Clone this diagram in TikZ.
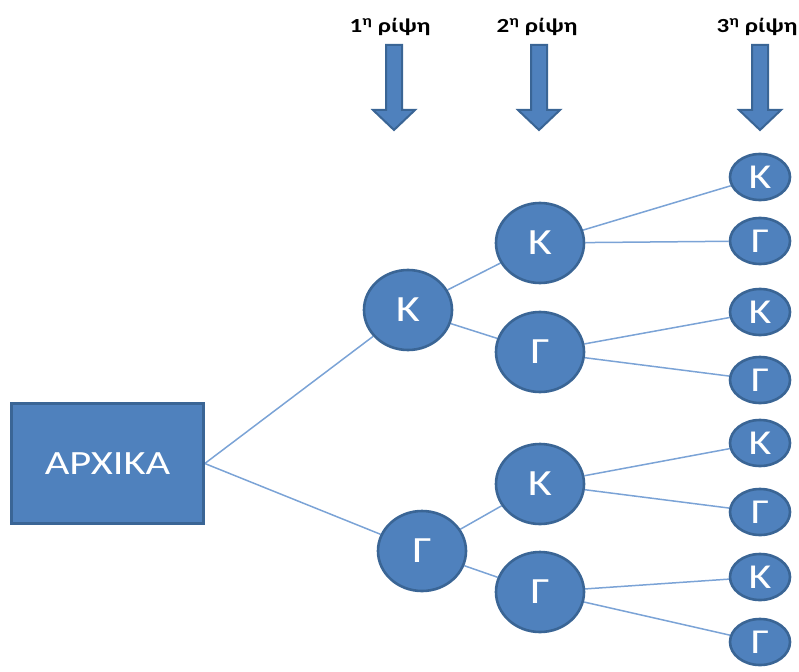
\documentclass[tikz,border=0pt]{standalone}
\usepackage{fontspec}
\setmainfont{Carlito}[FakeStretch=1.25]
\usetikzlibrary{shapes.geometric,backgrounds}
\definecolor{nodefill}{HTML}{4F81BD}
\definecolor{nodeedge}{HTML}{3A6595}
\definecolor{linkc}{HTML}{7BA3D6}
\tikzset{
  big/.style={ellipse, fill=nodefill, draw=nodeedge, line width=2.6pt, minimum width=88pt, minimum height=80pt, inner sep=0pt, text=white, font=\fontsize{37}{37}\selectfont},
  small/.style={ellipse, fill=nodefill, draw=nodeedge, line width=2.6pt, minimum width=60pt, minimum height=46pt, inner sep=0pt, text=white, font=\fontsize{35}{35}\selectfont},
  startbox/.style={rectangle, fill=nodefill, draw=nodeedge, line width=2.6pt, minimum width=192pt, minimum height=120pt, inner sep=0pt, text=white, font=\fontsize{34}{34}\selectfont},
  link/.style={draw=linkc, line width=1.5pt},
  arrowshape/.style={fill=nodefill, draw=nodeedge, line width=2pt, line join=miter},
  toplabel/.style={font=\fontsize{20}{20}\selectfont\bfseries, inner sep=0pt}
}
\newcommand{\blockarrow}[1]{\draw[arrowshape] ([xshift=-8pt]#1) -- ++(0,65) -- ++(-13,0) -- ++(21,20) -- ++(21,-20) -- ++(-13,0) -- ++(0,-65) -- cycle;}
\begin{document}
\begin{tikzpicture}[x=1pt,y=-1pt]
\useasboundingbox (0,0) rectangle (799,671);
% arrows and labels
\coordinate (a1) at (394,45);
\coordinate (a2) at (539,45);
\coordinate (a3) at (760,45);
\blockarrow{a1}
\blockarrow{a2}
\blockarrow{a3}
\node[toplabel] (t1) at (390,27) {1\textsuperscript{η} ρίψη};
\node[toplabel] (t2) at (537,27) {2\textsuperscript{η} ρίψη};
\node[toplabel] (t3) at (757,27) {3\textsuperscript{η} ρίψη};
% nodes
\node[startbox] (s) at (107.5,463.5) {ΑΡΧΙΚΑ};
\node[big] (k1) at (408,310) {Κ};
\node[big] (g1) at (422,551) {Γ};
\node[big] (kk) at (540,243) {Κ};
\node[big] (kg) at (540,352) {Γ};
\node[big] (gk) at (540,484) {Κ};
\node[big] (gg) at (540,592) {Γ};
\node[small] (kkk) at (760,177) {Κ};
\node[small] (kkg) at (760,241) {Γ};
\node[small] (kgk) at (760,312) {Κ};
\node[small] (kgg) at (760,380) {Γ};
\node[small] (gkk) at (760,443) {Κ};
\node[small] (gkg) at (760,512) {Γ};
\node[small] (ggk) at (760,577) {Κ};
\node[small] (ggg) at (760,642) {Γ};
% links
\begin{scope}[on background layer]
\draw[link] (s.east) -- (k1);
\draw[link] (s.east) -- (g1);
\draw[link] (k1) -- (kk);
\draw[link] (k1) -- (kg);
\draw[link] (g1) -- (gk);
\draw[link] (g1) -- (gg);
\draw[link] (kk) -- (kkk);
\draw[link] (kk) -- (kkg);
\draw[link] (kg) -- (kgk);
\draw[link] (kg) -- (kgg);
\draw[link] (gk) -- (gkk);
\draw[link] (gk) -- (gkg);
\draw[link] (gg) -- (ggk);
\draw[link] (gg) -- (ggg);
\end{scope}
\end{tikzpicture}
\end{document}
